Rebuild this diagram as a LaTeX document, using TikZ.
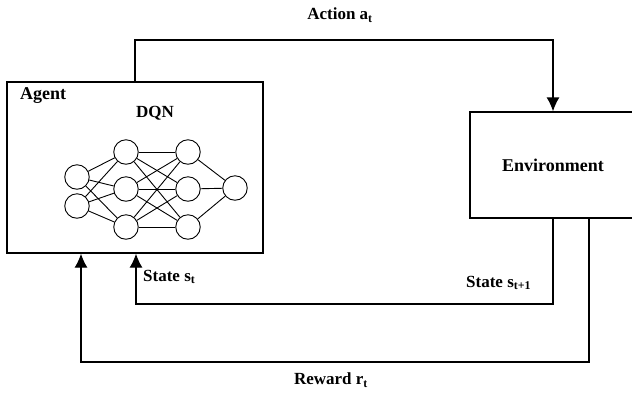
\documentclass[tikz,border=0pt]{standalone}
\usepackage{fontspec}
\setmainfont{Liberation Serif}
\usetikzlibrary{arrows.meta,calc}
\begin{document}
\begin{tikzpicture}[x=1pt,y=-1pt,
  box/.style={draw,line width=1.3pt,rectangle,inner sep=0pt},
  neuron/.style={draw,circle,line width=0.9pt,minimum size=24.5pt,inner sep=0pt},
  syn/.style={line width=0.9pt},
  flow/.style={line width=1.3pt},
  tip/.style={-{Latex[length=14pt,width=13pt]}},
  lbl/.style={font=\fontsize{17}{20}\selectfont\bfseries,inner sep=0pt}]
\clip (0,0) rectangle (632,392);
\fill[white] (0,0) rectangle (632,392);

% agent and environment blocks
\node[box,minimum width=256pt,minimum height=171pt] (agent) at (135,167.5) {};
\node[box,minimum width=166pt,minimum height=106pt] (env) at (553,165) {};
\node[lbl,anchor=west,font=\fontsize{18}{20}\selectfont\bfseries] (agenttxt) at (20,96) {Agent};
\node[lbl] (dqn) at (155,113) {DQN};
\node[lbl,font=\fontsize{18}{20}\selectfont\bfseries] (envtxt) at (553,165) {Environment};

% DQN network
\node[neuron] (i1) at (77,177) {};
\node[neuron] (i2) at (77,206) {};
\foreach \k/\y in {1/152,2/189,3/227}{
  \node[neuron] (a\k) at (126,\y) {};
  \node[neuron] (b\k) at (188,\y) {};
}
\node[neuron] (o) at (235,188) {};
\foreach \i in {1,2}{\foreach \k in {1,2,3}{\draw[syn] (i\i) -- (a\k);}}
\foreach \i in {1,2,3}{\foreach \k in {1,2,3}{\draw[syn] (a\i) -- (b\k);}}
\foreach \k in {1,2,3}{\draw[syn] (b\k) -- (o);}

% action loop
\coordinate (atop) at (135,40);
\draw[flow,tip] (agent.north) -- (atop) -| (env.north);
\node[lbl] (action) at (340,15) {Action a\textsubscript{t}};

% next state loop
\coordinate (sbot) at (136,304);
\draw[flow,tip] (env.south) |- (sbot) -- (sbot |- agent.south);
\node[lbl,anchor=west] (st) at (143,277) {State s\textsubscript{t}};
\node[lbl,anchor=west] (st1) at (466,283) {State s\textsubscript{t+1}};

% reward loop
\coordinate (rout) at (589,218);
\coordinate (rbot) at (81,362);
\draw[flow,tip] (rout) |- (rbot) -- (rbot |- agent.south);
\node[lbl] (reward) at (331,380) {Reward r\textsubscript{t}};
\end{tikzpicture}
\end{document}
